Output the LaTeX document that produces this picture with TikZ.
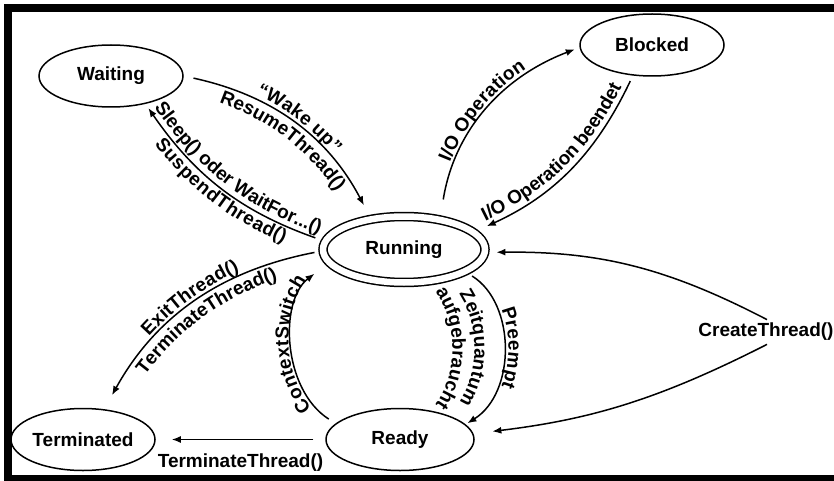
\documentclass[tikz,border=0pt]{standalone}
\usepackage{fontspec}
\setmainfont{Liberation Sans}
\usetikzlibrary{
    shapes.geometric,
    arrows.meta,
    positioning,
    decorations.text
}

\begin{document}
\begin{tikzpicture}[
    x=1pt, y=1pt,
    node distance=190pt,
    font=\bfseries\fontsize{19}{20}\selectfont,
    state/.style={ellipse, draw=black, line width=1.5pt, minimum width=144pt,
                  minimum height=62pt, inner sep=0pt, text centered},
    runstate/.style={state, double, double distance=6.5pt, minimum width=162pt,
                     minimum height=66pt},
    arrow/.style={-{Latex[length=9pt,width=7pt]}, line width=1.5pt},
    lbl/.style 2 args={decorate, decoration={text along path, text align=center,
                       raise=#2, text={|\bfseries\fontsize{19}{20}\selectfont|#1}}},
    frame/.style={line width=8pt}
]

    % canvas and frame (open to the right)
    \useasboundingbox (0,0) rectangle (834,-481);
    \draw [frame] (834,-8.5) -- (7.5,-8.5) -- (7.5,-478.5) -- (834,-478.5);

    % States
    \node (run) [runstate] at (404,-249.5) {Running};
    \node (ready) [state, minimum width=148pt, below of=run, xshift=-4pt] {Ready};
    \node (term) [state, left of=ready, xshift=-127pt] {Terminated};
    \node (wait) [state, above of=run, xshift=-293pt, yshift=-16.5pt] {Waiting};
    \node (blk) [state, above of=run, xshift=248pt, yshift=14.5pt] {Blocked};
    \node (create) [right of=run, xshift=172pt, yshift=-82.5pt] {CreateThread()};

    % Transitions
    \draw [arrow, shorten <=10pt, shorten >=15pt] (wait.0) to[bend left=25] (run.137);
    \path [lbl={“Wake up”}{5pt}] (wait.0) to[bend left=25] (run.137);
    \path [lbl={ResumeThread()}{0pt}] ([shift={(-10pt,-13.5pt)}]wait.0) to[bend left=25]
        ([shift={(-10pt,-13.5pt)}]run.137);

    \draw [arrow, shorten <=10pt, shorten >=5pt] (run.174) to[bend left=18] (wait.-39);
    \path [lbl={Sleep() oder WaitFor...()}{5pt}] (wait.-39) to[bend right=18] (run.174);
    \path [lbl={SuspendThread()}{-17pt}] (wait.-39) to[bend right=18] (run.174);

    \draw [arrow, shorten <=20pt, shorten >=5pt] (run.40) to[bend left=30] (blk.182);
    \path [lbl={I/O Operation}{5pt}] (run.40) to[bend left=30] (blk.182);

    \draw [arrow, shorten <=6pt, shorten >=14pt] (blk.238) to[bend left=20] (run.14);
    \path [lbl={I/O Operation beendet}{5pt}] (run.14) to[bend right=20] (blk.238);

    \draw [arrow, shorten <=8pt, shorten >=16pt] (run.181) to[bend right=25] (term.55);
    \path [lbl={ExitThread()}{5pt}] (term.55) to[bend left=25] (run.181);
    \path [lbl={TerminateThread()}{0pt}] ([shift={(10pt,-13.8pt)}]term.55) to[bend left=25]
        ([shift={(10pt,-13.8pt)}]run.181);

    \draw [arrow, shorten <=8pt, shorten >=18pt] (ready.166) to[bend left=55] (run.190);
    \path [lbl={ContextSwitch}{5pt}] (ready.166) to[bend left=55] (run.190);

    \draw [arrow, shorten <=8pt, shorten >=2pt] (run.-20) to[bend left=58] (ready.13);
    \path [lbl={Preempt}{5pt}] (run.-20) to[bend left=58] (ready.13);
    \path [lbl={Zeitquantum}{0pt}] ([xshift=-29pt]run.-20) to[bend left=58] ([xshift=-29pt]ready.13);
    \path [lbl={aufgebraucht}{0pt}] ([xshift=-51pt]run.-20) to[bend left=58] ([xshift=-51pt]ready.13);

    \draw [arrow, shorten <=12pt, shorten >=16pt] (ready) --
        node[below=10pt] {TerminateThread()} (term);

    % CreateThread
    \draw [arrow, shorten >=11pt] ([xshift=1pt]create.north) to[bend right=14] (run.-2);
    \draw [arrow, shorten >=19pt] ([xshift=1pt]create.south) to[bend left=10] (ready);

\end{tikzpicture}
\end{document}
